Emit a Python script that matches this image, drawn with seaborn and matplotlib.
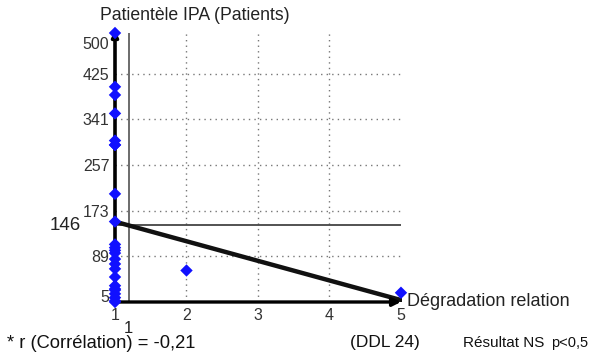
import numpy as np
import pandas as pd
import matplotlib
matplotlib.use("Agg")
import matplotlib.pyplot as plt
import matplotlib.transforms as mtransforms
import seaborn as sns

# ---- data ----
x_values = [1]*24 + [2, 5]
y_values = [500, 401, 386, 352, 302, 294, 294, 204, 153,
            111, 105, 100, 95, 84, 75, 66, 51, 35, 29, 27, 20, 13, 7, 5,
            63, 22]
y_ticks = [5, 89, 173, 257, 341, 425, 500]
x_ticks = [1, 2, 3, 4, 5]
y_grid = [89, 173, 257, 341, 425]
x_grid = [2, 3, 4]
title_text = "Patientèle IPA (Patients)"
xlabel_text = "Dégradation relation"
footer_texts = ["* r (Corrélation) = -0,21", "(DDL 24)", "Résultat NS", "p<0,5"]

df = pd.DataFrame({"x": x_values, "y": y_values})

sns.set_style("white")
plt.rcParams["font.family"] = ["Liberation Sans", "DejaVu Sans"]

fig = plt.figure(figsize=(5.9, 3.62), dpi=100)
ax = fig.add_axes([115/590, 60/362, 287.4/590, 269/362])
ax.set_xlim(1, 5.02)
ax.set_ylim(5, 500)

# grid
for g in y_grid:
    ax.axhline(g, color="#777777", lw=1.0, ls=(0, (1, 3)), zorder=1)
for g in x_grid:
    ax.axvline(g, color="#777777", lw=1.0, ls=(0, (1, 3)), zorder=1)

# mean lines
x_mean = df["x"].mean()
y_mean = df["y"].mean()
ax.axvline(x_mean, color="#444444", lw=1.1, zorder=2)
ax.hlines(y_mean, 1, 5, color="#444444", lw=1.3, zorder=2)

# regression
sns.regplot(data=df, x="x", y="y", ci=None, scatter=False, truncate=True,
            line_kws=dict(color="#111111", lw=3.2, zorder=3), ax=ax)

# points
sns.scatterplot(data=df, x="x", y="y", marker="D", color="#1010ff",
                s=40, edgecolor="none", zorder=5, ax=ax, clip_on=False)

# axes with arrows
for s in ax.spines.values():
    s.set_visible(False)
ax.annotate("", xy=(0, 1.01), xytext=(0, 0), xycoords="axes fraction",
            arrowprops=dict(arrowstyle="-|>", lw=2.6, color="black",
                            mutation_scale=9, shrinkA=0, shrinkB=0), zorder=4)
ax.annotate("", xy=(5, 5), xytext=(1, 5), xycoords="data",
            arrowprops=dict(arrowstyle="-|>", lw=2.4, color="black",
                            mutation_scale=12, shrinkA=0, shrinkB=0), zorder=4)

ax.set_xticks(x_ticks)
ax.set_yticks(y_ticks)
ax.set_xticklabels([str(v) for v in x_ticks])
ax.set_yticklabels([str(v) for v in y_ticks])
ax.tick_params(axis="both", length=0, labelsize=11.5, colors="#333333")
ax.tick_params(axis="y", pad=4)
ax.tick_params(axis="x", pad=4)
ax.set_xlabel("")
ax.set_ylabel("")

# nudge end labels
labels = ax.get_yticklabels()
labels[-1].set_transform(labels[-1].get_transform() +
                         mtransforms.ScaledTranslation(0, -10/100, fig.dpi_scale_trans))
labels[0].set_transform(labels[0].get_transform() +
                        mtransforms.ScaledTranslation(0, 6/100, fig.dpi_scale_trans))

# mean labels
ax.text(-0.12, y_mean, f"{y_mean:.0f}", transform=ax.get_yaxis_transform(),
        ha="right", va="center", fontsize=13.5, color="#222222")
ax.text(x_mean, -0.097, f"{x_mean:.0f}", transform=ax.get_xaxis_transform(),
        ha="center", va="center", fontsize=12, color="#222222")

# titles
fig.text(100/590, 1 - 15/362, title_text, ha="left", va="center",
         fontsize=12.7, color="#222222")
ax.text(5.09, 5, xlabel_text, ha="left", va="center", fontsize=13,
        color="#222222")

# footer
fy = 1 - 343/362
fig.text(7/590, fy, footer_texts[0], ha="left", va="center", fontsize=13.2, color="#111111")
fig.text(350/590, fy, footer_texts[1], ha="left", va="center", fontsize=12.5, color="#111111")
fig.text(463/590, fy, footer_texts[2], ha="left", va="center", fontsize=11.0, color="#111111")
fig.text(588/590, fy, footer_texts[3], ha="right", va="center", fontsize=10.5, color="#111111")

fig.savefig("out.png", dpi=100)
